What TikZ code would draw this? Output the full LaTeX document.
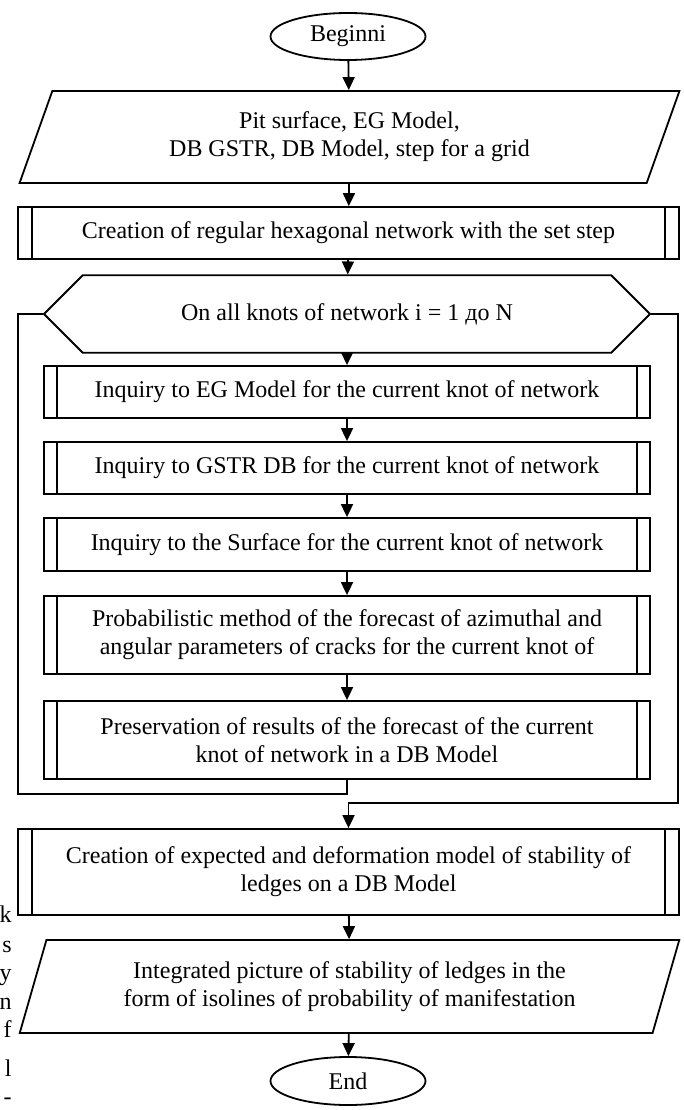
\documentclass[tikz,border=0pt]{standalone}
\usepackage{fontspec}
\setmainfont{Liberation Serif}
\usepackage{tikz}
\usetikzlibrary{arrows.meta}
\usetikzlibrary{shapes.geometric, shapes.misc}
\tikzset{>={Triangle[length=13pt,width=12pt]}}
\tikzset{term/.style = {shape=ellipse, draw, minimum width=155pt, minimum height=47pt, inner sep=1pt}}
\tikzset{io/.style = {shape=trapezium, trapezium left angle=69, trapezium right angle=111,
                      trapezium stretches=true, draw, align=center, inner sep=1pt,
                      minimum width=663pt, minimum height=92pt}}
\tikzset{sub/.style = {shape=rectangle, draw, align=center, inner sep=1pt,
                      path picture={
                        \draw ([xshift=#1]path picture bounding box.north west) -- ([xshift=#1]path picture bounding box.south west)
                              ([xshift=-#1]path picture bounding box.north east) -- ([xshift=-#1]path picture bounding box.south east);
                      }}}
\tikzset{outer/.style = {sub=14pt, minimum width=661pt}}
\tikzset{inner/.style = {sub=13pt, minimum width=606pt}}
\tikzset{cycle/.style = {shape=chamfered rectangle, draw, inner sep=1pt,
                        chamfered rectangle xsep=26pt, chamfered rectangle ysep=26.9pt,
                        minimum width=606pt, minimum height=54pt}}

\begin{document}
\begin{tikzpicture}[x=1pt, y=-1pt, line width=1.8pt, font=\fontsize{24}{28}\selectfont]
                    \useasboundingbox (0,0) rectangle (683,1110);

                    \node[term] (start) at (348,36.5) {Beginni};
                    \node[io] (inp) at (349.5,137) {Pit surface, EG Model,\\DB GSTR, DB Model, step for a grid};
                    \node[outer, minimum height=52pt] (grid) at (348.5,233) {Creation of regular hexagonal network with the set step};
                    \node[cycle] (loop) at (347,314) {On all knots of network i = 1 до N};
                    \node[inner, minimum height=52pt] (eg) at (347,392) {Inquiry to EG Model for the current knot of network};
                    \node[inner, minimum height=52pt] (gstr) at (347,468) {Inquiry to GSTR DB for the current knot of network};
                    \node[inner, minimum height=53pt] (surf) at (347,544.5) {Inquiry to the Surface for the current knot of network};
                    \node[inner, minimum height=78pt] (prob) at (347,635) {Probabilistic method of the forecast of azimuthal and\\angular parameters of cracks for the current knot of};
                    \node[inner, minimum height=78pt] (save) at (347,740) {Preservation of results of the forecast of the current\\knot of network in a DB Model};
                    \node[outer, minimum height=86pt] (model) at (348.5,872) {Creation of expected and deformation model of stability of\\ledges on a DB Model};
                    \node[io, minimum height=93pt] (out) at (349.5,986.5) {Integrated picture of stability of ledges in the\\form of isolines of probability of manifestation};
                    \node[term, minimum height=48pt] (stop) at (348,1081) {End};

                    \coordinate (lback) at (18,794);
                    \coordinate (rback) at (678,803);

                    \foreach \a/\b in {start/inp, inp/grid, grid/loop, loop/eg, eg/gstr, gstr/surf, surf/prob, prob/save, model/out, out/stop} {
                      \draw[->] (\a) -- (\b);
                    }
                    \draw (save.south) |- (lback) |- (loop.west);
                    \draw[->] (loop.east) -| (rback) -| (model.north);

                    \foreach \ch/\yy [count=\i] in {k/922, s/952, y/980, n/1009, f/1037, l/1076, -/1104} {
                      \node[anchor=base east, inner sep=0pt] (tail\i) at (12.5,\yy) {\ch};
                    }
                  \end{tikzpicture}
\end{document}
